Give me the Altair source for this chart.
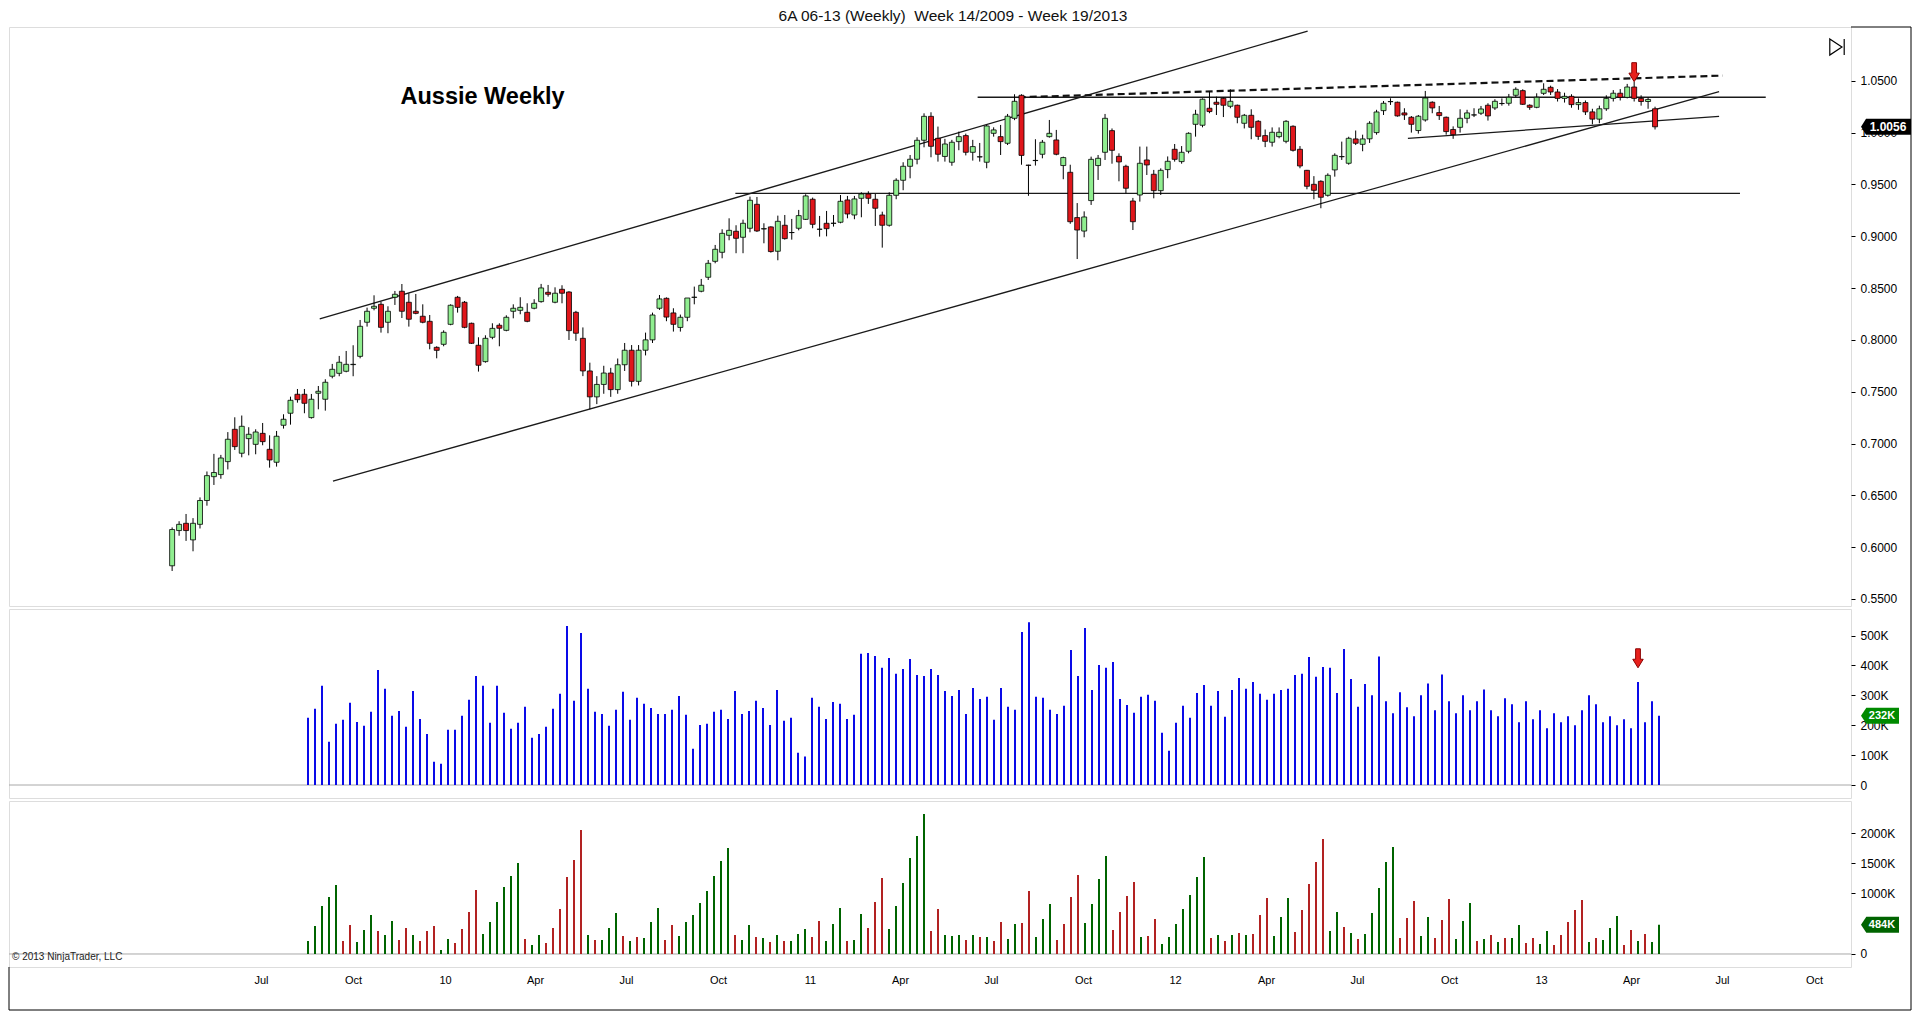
import altair as alt
import pandas as pd

# ---------------- layout ----------------
START = pd.Timestamp("2009-03-30")   # first weekly bar (week 14/2009)
W = 1842
H_PRICE, H_VOL, H_OI = 579, 189, 166
FONT = "Liberation Sans"

# ---------------- data ----------------
opens = [
    0.582, 0.616, 0.623, 0.607, 0.622, 0.645, 0.668, 0.670, 0.6825, 0.7137,
    0.6906, 0.7047, 0.6992, 0.7098, 0.6944, 0.6819, 0.7176, 0.7292, 0.7475, 0.7475,
    0.7250, 0.7485, 0.7427, 0.7649, 0.7677, 0.7697, 0.7761, 0.7841, 0.8170, 0.8305,
    0.8343, 0.8170, 0.8411, 0.8469, 0.8363, 0.8276, 0.8228, 0.8179, 0.7928, 0.7957,
    0.8150, 0.8411, 0.8363, 0.8160, 0.7948, 0.7790, 0.8025, 0.8141, 0.8092, 0.8276,
    0.8285, 0.8266, 0.8305, 0.8369, 0.8459, 0.8363, 0.8488, 0.8462, 0.8266, 0.8015,
    0.7700, 0.7450, 0.7570, 0.7680, 0.7520, 0.7760, 0.7900, 0.7600, 0.7900, 0.8000,
    0.8305, 0.8401, 0.8260, 0.8120, 0.8218, 0.8410, 0.8469, 0.8604, 0.8758, 0.8845,
    0.9009, 0.9048, 0.8990, 0.9077, 0.9308, 0.9070, 0.9090, 0.8855, 0.9106, 0.9035,
    0.9077, 0.9163, 0.9357, 0.9067, 0.9125, 0.9124, 0.9135, 0.9350, 0.9205, 0.9366,
    0.9408, 0.9357, 0.9205, 0.9106, 0.9395, 0.9540, 0.9675, 0.9743, 0.9926, 1.0157,
    0.9945, 0.9770, 0.9714, 0.9913, 0.9971, 0.9810, 0.9765, 0.9714, 0.9993, 0.9961,
    0.9897, 1.0138, 1.0360, 0.9686, 0.9730, 0.9791, 0.9961, 0.9929, 0.9682, 0.9617,
    0.9180, 0.9050, 0.9344, 0.9682, 0.9810, 1.0019, 0.9771, 0.9675, 0.9340, 0.9398,
    0.9736, 0.9598, 0.9440, 0.9643, 0.9839, 0.9720, 0.9820, 1.0080, 1.0071, 1.0235,
    1.0293, 1.0331, 1.0254, 1.0264, 1.0090, 1.0167, 1.0109, 0.9971, 0.9907, 0.9961,
    0.9916, 1.0061, 0.9839, 0.9636, 0.9501, 0.9530, 0.9395, 0.9640, 0.9767, 0.9704,
    0.9939, 0.9887, 0.9940, 1.0000, 1.0212, 1.0298, 1.0293, 1.0190, 1.0148, 1.0020,
    1.0122, 1.0293, 1.0193, 1.0148, 1.0030, 1.0051, 1.0138, 1.0170, 1.0187, 1.0264,
    1.0238, 1.0280, 1.0283, 1.0360, 1.0405, 1.0264, 1.0244, 1.0379, 1.0437, 1.0392,
    1.0330, 1.0350, 1.0270, 1.0290, 1.0200, 1.0130, 1.0230, 1.0330, 1.0380, 1.0340,
    1.0440, 1.0330, 1.0300, 1.0230,
]
highs = [
    0.619, 0.625, 0.632, 0.628, 0.648, 0.673, 0.690, 0.689, 0.711, 0.7253,
    0.727, 0.7157, 0.7137, 0.7198, 0.7079, 0.7121, 0.7282, 0.7452, 0.7526, 0.7526,
    0.7478, 0.7555, 0.7620, 0.7768, 0.7845, 0.7893, 0.7948, 0.8192, 0.8311, 0.8430,
    0.8369, 0.8324, 0.8472, 0.8539, 0.8449, 0.8443, 0.8343, 0.8240, 0.7938, 0.8092,
    0.8343, 0.8424, 0.8375, 0.8166, 0.8025, 0.8044, 0.8160, 0.8160, 0.8237, 0.8343,
    0.8411, 0.8353, 0.8392, 0.8540, 0.8530, 0.8507, 0.8527, 0.8470, 0.8280, 0.8120,
    0.7780, 0.7650, 0.7750, 0.7730, 0.7820, 0.7970, 0.7950, 0.7950, 0.8070, 0.8263,
    0.8433, 0.8410, 0.8305, 0.8244, 0.8404, 0.8514, 0.8588, 0.8771, 0.8916, 0.9067,
    0.9173, 0.9106, 0.9160, 0.9382, 0.9379, 0.9125, 0.9096, 0.9199, 0.9205, 0.9167,
    0.9254, 0.9405, 0.9373, 0.9196, 0.9244, 0.9205, 0.9398, 0.9389, 0.9389, 0.9424,
    0.9434, 0.9408, 0.9237, 0.9424, 0.9559, 0.9714, 0.9784, 0.9955, 1.0186, 1.0196,
    1.0058, 0.9940, 0.9930, 1.0010, 0.9990, 0.9930, 0.9900, 1.0074, 1.0051, 1.0074,
    1.0180, 1.0370, 1.0370, 0.9690, 0.9936, 0.9929, 1.0122, 1.0026, 0.9768, 0.9690,
    0.9320, 0.9240, 0.9768, 0.9784, 1.0180, 1.0040, 0.9800, 0.9690, 0.9370, 0.9865,
    0.9865, 0.9640, 0.9655, 0.9770, 0.9890, 0.9870, 1.0003, 1.0220, 1.0330, 1.0396,
    1.0347, 1.0340, 1.0418, 1.0270, 1.0180, 1.0225, 1.0120, 1.0030, 1.0050, 1.0050,
    1.0120, 1.0070, 0.9870, 0.9640, 0.9580, 0.9540, 0.9607, 0.9800, 0.9913, 0.9960,
    1.0020, 0.9980, 1.0110, 1.0220, 1.0305, 1.0331, 1.0299, 1.0235, 1.0160, 1.0170,
    1.0402, 1.0302, 1.0257, 1.0155, 1.0060, 1.0225, 1.0220, 1.0235, 1.0257, 1.0283,
    1.0322, 1.0330, 1.0373, 1.0437, 1.0418, 1.0273, 1.0379, 1.0476, 1.0453, 1.0420,
    1.0385, 1.0370, 1.0330, 1.0310, 1.0230, 1.0260, 1.0360, 1.0410, 1.0420, 1.0470,
    1.0490, 1.0360, 1.0340, 1.0250,
]
lows = [
    0.577, 0.611, 0.606, 0.596, 0.618, 0.640, 0.660, 0.666, 0.675, 0.6938,
    0.6867, 0.6886, 0.6896, 0.6983, 0.6767, 0.6777, 0.7144, 0.7182, 0.7394, 0.7292,
    0.7240, 0.7330, 0.7317, 0.7629, 0.7649, 0.7687, 0.7649, 0.7822, 0.8128, 0.8285,
    0.8070, 0.8064, 0.8337, 0.8211, 0.8128, 0.8247, 0.8160, 0.7909, 0.7822, 0.7938,
    0.8141, 0.8263, 0.8112, 0.7961, 0.7694, 0.7780, 0.8006, 0.7938, 0.8083, 0.8208,
    0.8247, 0.8170, 0.8295, 0.8359, 0.8417, 0.8353, 0.8353, 0.7999, 0.7990, 0.7650,
    0.7330, 0.7380, 0.7480, 0.7450, 0.7480, 0.7700, 0.7550, 0.7560, 0.7850, 0.7970,
    0.8289, 0.8180, 0.8080, 0.8080, 0.8180, 0.8343, 0.8459, 0.8578, 0.8739, 0.8787,
    0.8961, 0.8836, 0.8836, 0.9038, 0.9041, 0.8932, 0.8842, 0.8768, 0.8967, 0.8967,
    0.9057, 0.9157, 0.9077, 0.8996, 0.8999, 0.9093, 0.9125, 0.9173, 0.9164, 0.9183,
    0.9312, 0.9099, 0.8890, 0.9093, 0.9357, 0.9444, 0.9559, 0.9694, 0.9858, 0.9762,
    0.9720, 0.9720, 0.9680, 0.9830, 0.9780, 0.9730, 0.9720, 0.9656, 0.9961, 0.9784,
    0.9880, 1.0120, 0.9690, 0.9390, 0.9682, 0.9752, 0.9951, 0.9781, 0.9550, 0.9120,
    0.8780, 0.8990, 0.9302, 0.9543, 0.9736, 0.9700, 0.9530, 0.9415, 0.9060, 0.9334,
    0.9591, 0.9366, 0.9398, 0.9560, 0.9720, 0.9700, 0.9800, 0.9961, 1.0051, 1.0187,
    1.0170, 1.0150, 1.0235, 1.0090, 1.0040, 0.9936, 0.9930, 0.9860, 0.9865, 0.9945,
    0.9897, 0.9817, 0.9656, 0.9453, 0.9357, 0.9270, 0.9382, 0.9575, 0.9736, 0.9690,
    0.9880, 0.9820, 0.9900, 0.9980, 1.0170, 1.0267, 1.0154, 1.0122, 1.0000, 0.9990,
    1.0106, 1.0187, 1.0122, 0.9980, 0.9940, 1.0000, 1.0090, 1.0150, 1.0170, 1.0116,
    1.0219, 1.0260, 1.0260, 1.0341, 1.0267, 1.0220, 1.0235, 1.0363, 1.0363, 1.0300,
    1.0290, 1.0240, 1.0220, 1.0170, 1.0080, 1.0090, 1.0210, 1.0300, 1.0310, 1.0330,
    1.0300, 1.0260, 1.0230, 1.0030,
]
closes = [
    0.617, 0.622, 0.616, 0.623, 0.645, 0.669, 0.672, 0.686, 0.7041, 0.6970,
    0.7166, 0.7089, 0.7111, 0.7018, 0.6841, 0.7070, 0.7234, 0.7417, 0.7423, 0.7388,
    0.7427, 0.7504, 0.7591, 0.7716, 0.7784, 0.7764, 0.7764, 0.8131, 0.8276, 0.8324,
    0.8121, 0.8276, 0.8440, 0.8276, 0.8199, 0.8256, 0.8170, 0.7967, 0.7899, 0.8073,
    0.8334, 0.8314, 0.8121, 0.7967, 0.7755, 0.8015, 0.8111, 0.8112, 0.8218, 0.8305,
    0.8314, 0.8179, 0.8353, 0.8501, 0.8440, 0.8450, 0.8450, 0.8089, 0.8064, 0.7700,
    0.7450, 0.7570, 0.7680, 0.7520, 0.7760, 0.7900, 0.7600, 0.7900, 0.8000, 0.8240,
    0.8395, 0.8220, 0.8150, 0.8218, 0.8404, 0.8412, 0.8527, 0.8739, 0.8874, 0.9028,
    0.9057, 0.8980, 0.9125, 0.9347, 0.9051, 0.9073, 0.8852, 0.9144, 0.8977, 0.9036,
    0.9199, 0.9389, 0.9115, 0.9068, 0.9073, 0.9126, 0.9337, 0.9215, 0.9360, 0.9408,
    0.9366, 0.9270, 0.9106, 0.9395, 0.9540, 0.9675, 0.9743, 0.9926, 1.0157, 0.9868,
    0.9791, 0.9890, 0.9907, 0.9961, 0.9810, 0.9865, 0.9767, 1.0064, 1.0026, 0.9913,
    1.0158, 1.0302, 0.9780, 0.9684, 0.9732, 0.9907, 0.9993, 0.9791, 0.9759, 0.9140,
    0.9060, 0.9186, 0.9742, 0.9752, 1.0138, 0.9829, 0.9717, 0.9463, 0.9140, 0.9704,
    0.9688, 0.9440, 0.9636, 0.9723, 0.9742, 0.9810, 0.9993, 1.0177, 1.0322, 1.0203,
    1.0273, 1.0264, 1.0302, 1.0148, 1.0167, 1.0051, 0.9964, 0.9916, 1.0003, 1.0003,
    1.0109, 0.9829, 0.9678, 0.9482, 0.9443, 0.9376, 0.9588, 0.9781, 0.9769, 0.9945,
    0.9897, 0.9939, 1.0090, 1.0199, 1.0283, 1.0300, 1.0161, 1.0170, 1.0080, 1.0158,
    1.0334, 1.0238, 1.0164, 1.0010, 0.9980, 1.0138, 1.0190, 1.0171, 1.0228, 1.0161,
    1.0302, 1.0281, 1.0341, 1.0418, 1.0273, 1.0244, 1.0341, 1.0418, 1.0392, 1.0330,
    1.0350, 1.0270, 1.0290, 1.0200, 1.0130, 1.0230, 1.0330, 1.0380, 1.0340, 1.0440,
    1.0330, 1.0300, 1.0320, 1.0056,
]

# volume (thousands), starting at bar 20
VOL_START = 20
volume_k = [
    225, 255, 332, 145, 205, 218, 275, 211, 198, 245,
    385, 322, 232, 248, 195, 315, 221, 171, 78, 71,
    185, 185, 232, 285, 365, 332, 208, 332, 242, 188,
    208, 262, 158, 171, 195, 255, 305, 532, 282, 509,
    322, 245, 238, 198, 252, 312, 218, 292, 272, 258,
    238, 238, 252, 298, 235, 121, 201, 205, 245, 252,
    221, 315, 238, 248, 282, 258, 201, 318, 215, 225,
    108, 95, 292, 262, 221, 278, 272, 221, 235, 439,
    442, 432, 392, 425, 372, 388, 422, 368, 365, 388,
    368, 315, 298, 318, 238, 325, 288, 295, 218, 325,
    262, 252, 512, 545, 295, 292, 252, 238, 265, 452,
    365, 525, 318, 402, 392, 412, 288, 268, 242, 295,
    302, 282, 175, 115, 208, 265, 225, 308, 335, 265,
    315, 228, 318, 358, 322, 345, 305, 285, 305, 318,
    322, 368, 372, 428, 362, 395, 392, 308, 455, 355,
    262, 338, 300, 430, 280, 240, 310, 260, 230, 300,
    340, 250, 370, 280, 240, 300, 250, 280, 320, 250,
    230, 290, 270, 210, 280, 220, 250, 190, 240, 210,
    230, 200, 250, 300, 270, 210, 230, 200, 220, 190,
    345, 210, 280, 232,
]

# third panel (thousands), starting at bar 20, with bar colours
oi_k = [
    215, 463, 793, 942, 1140, 215, 479, 198, 397, 645,
    380, 314, 545, 231, 430, 314, 215, 380, 463, 66,
    248, 182, 413, 694, 1058, 331, 529, 860, 1107, 1289,
    1504, 248, 149, 314, 182, 430, 744, 1273, 1554, 2050,
    314, 231, 231, 430, 678, 298, 215, 281, 264, 529,
    760, 231, 479, 298, 529, 645, 843, 1041, 1289, 1537,
    1752, 314, 231, 479, 281, 264, 198, 314, 215, 215,
    331, 413, 281, 545, 215, 496, 760, 215, 231, 661,
    430, 860, 1256, 413, 793, 1174, 1587, 1950, 2314, 380,
    744, 314, 298, 314, 231, 314, 281, 281, 215, 529,
    248, 496, 512, 1041, 281, 579, 826, 231, 496, 942,
    1306, 512, 826, 1240, 1620, 397, 694, 959, 1190, 281,
    298, 579, 165, 281, 496, 744, 975, 1273, 1603, 264,
    314, 215, 314, 347, 314, 331, 645, 926, 298, 612,
    926, 364, 727, 1157, 1521, 1901, 380, 694, 446, 347,
    248, 331, 678, 1091, 1521, 1769, 264, 595, 876, 298,
    612, 264, 562, 909, 248, 545, 843, 215, 248, 314,
    198, 264, 264, 479, 182, 264, 165, 380, 149, 314,
    529, 727, 893, 198, 264, 231, 430, 628, 149, 397,
    215, 331, 198, 484,
]
oi_colors = list(
    "gggggrrggg" "rggrrgrrrg" "grrrrggggg" "grggrrrrrr" "grgggrgrgg"
    "grrggggggg" "grggrgrgrg" "ggrrgggrgg" "rrrggggggr" "rgggrgrgrr"
    "ggrrgggrrr" "rggggrrrrg" "rrgggggggr" "grgrgrrrgg" "grrrrrggrg"
    "rgggggrrrg" "grrrgggrgr" "grggrrggrr" "rrrgrgggrr" "grgg"
)
OI_PALETTE = {"g": "#006400", "r": "#B22222"}

# drawn trend lines (bar index, price)
trend_x1 = [21.2, 23.1, 80.9, 115.7, 177.5]
trend_y1 = [0.8202, 0.6636, 0.9414, 1.0341, 0.9944]
trend_x2 = [163.1, 222.2, 225.2, 228.9, 222.2]
trend_y2 = [1.0980, 1.0395, 0.9414, 1.0341, 1.0157]
dash_x1, dash_y1, dash_x2, dash_y2 = [121.6], [1.0341], [222.7], [1.0550]

price_ticks = [0.55, 0.60, 0.65, 0.70, 0.75, 0.80, 0.85, 0.90, 0.95, 1.00, 1.05]
vol_ticks = [0, 100, 200, 300, 400, 500]
oi_ticks = [0, 1000, 1500, 2000]          # the 500K label sits under the value box
quarter_ticks = [(2009, 7), (2009, 10), (2010, 1), (2010, 4), (2010, 7), (2010, 10),
                 (2011, 1), (2011, 4), (2011, 7), (2011, 10), (2012, 1), (2012, 4),
                 (2012, 7), (2012, 10), (2013, 1), (2013, 4), (2013, 7), (2013, 10)]

title_text = "6A 06-13 (Weekly)\u00a0 Week 14/2009 - Week 19/2013"
note_text = "Aussie Weekly"
copyright_text = "\u00a9 2013 NinjaTrader, LLC"
arrow_bar = 210


# ---------------- helpers ----------------
def wdate(i):
    return (START + pd.Timedelta(days=7 * i)).strftime("%Y-%m-%dT%H:%M:%S")


def dt(ts):
    return alt.DateTime(year=ts.year, month=ts.month, date=ts.day)


X_SCALE = alt.Scale(domain=[dt(START - pd.Timedelta(days=159)),
                            dt(START + pd.Timedelta(days=W - 159))], nice=False)
X_AXIS = alt.Axis(
    values=[alt.DateTime(year=y, month=m, date=1) for y, m in quarter_ticks],
    labelExpr="month(datum.value) == 0 ? timeFormat(datum.value, '%y') : timeFormat(datum.value, '%b')",
    ticks=False, domain=False, grid=False, labelPadding=7, labelFontSize=11,
    labelColor="black", labelFont=FONT, labelOverlap=False, labelFlush=False, title=None,
)


def xe(field, axis=None):
    return alt.X(field, type="temporal", scale=X_SCALE, axis=axis, title=None)


def right_axis(values, fmt=None, expr=None):
    kw = dict(orient="right", values=values, tickSize=4, tickColor="black",
              labelPadding=5, domain=False, grid=False, labelFontSize=12,
              labelColor="black", labelFont=FONT, title=None)
    if fmt:
        kw["format"] = fmt
    if expr:
        kw["labelExpr"] = expr
    return alt.Axis(**kw)


P_SCALE = alt.Scale(domain=[0.5432, 1.1019], nice=False, zero=False)
P_AXIS = right_axis(price_ticks, fmt=".4f")
V_SCALE = alt.Scale(domain=[-43.5, 589], nice=False, zero=False)
V_AXIS = right_axis(vol_ticks, expr="datum.value == 0 ? '0' : datum.value + 'K'")
O_SCALE = alt.Scale(domain=[-215, 2529], nice=False, zero=False)
O_AXIS = right_axis(oi_ticks, expr="datum.value == 0 ? '0' : datum.value + 'K'")


def py(f):
    return alt.Y(f, type="quantitative", scale=P_SCALE, axis=P_AXIS, title=None)


def vy(f):
    return alt.Y(f, type="quantitative", scale=V_SCALE, axis=V_AXIS, title=None)


def oy(f):
    return alt.Y(f, type="quantitative", scale=O_SCALE, axis=O_AXIS, title=None)


one = pd.DataFrame({"k": [0]})
BOX_SHORT = "M-1,0 L-0.72,-0.42 L1,-0.42 L1,0.42 L-0.72,0.42 Z"
BOX_LONG = "M-1,0 L-0.8,-0.32 L1,-0.32 L1,0.32 L-0.8,0.32 Z"
ARROW = "M-0.25,-1 L0.25,-1 L0.25,0.1 L0.55,0.1 L0,1 L-0.55,0.1 L-0.25,0.1 Z"

# ---------------- price panel ----------------
price_df = pd.DataFrame({
    "date": [wdate(i) for i in range(len(closes))],
    "o": opens, "h": highs, "l": lows, "c": closes,
})
price_df["dir"] = ["up" if c >= o else "down" for o, c in zip(opens, closes)]

wicks = alt.Chart(price_df).mark_rule(color="black", strokeWidth=1).encode(
    x=xe("date"), y=py("l"), y2="h")
bodies = alt.Chart(price_df).mark_bar(size=5, stroke="black", strokeWidth=0.8).encode(
    x=xe("date"), y=py("o"), y2="c",
    fill=alt.Fill("dir:N", scale=alt.Scale(domain=["up", "down"], range=["#90EE90", "#E0161B"]),
                  legend=None))

lines_df = pd.DataFrame({
    "x1": [wdate(v) for v in trend_x1], "x2": [wdate(v) for v in trend_x2],
    "y1": trend_y1, "y2": trend_y2})
dash_df = pd.DataFrame({
    "x1": [wdate(v) for v in dash_x1], "x2": [wdate(v) for v in dash_x2],
    "y1": dash_y1, "y2": dash_y2})
trend = alt.Chart(lines_df).mark_rule(color="#1a1a1a", strokeWidth=1.3).encode(
    x=xe("x1"), x2="x2", y=py("y1"), y2="y2")
dashed = alt.Chart(dash_df).mark_rule(color="#111111", strokeWidth=2.2, strokeDash=[7, 4]).encode(
    x=xe("x1"), x2="x2", y=py("y1"), y2="y2")

note = alt.Chart(pd.DataFrame({"t": [note_text], "d": [wdate(32.8)], "p": [1.0344]})).mark_text(
    align="left", baseline="middle", fontSize=23.5, fontWeight="bold", font=FONT, color="black"
).encode(x=xe("d"), y=py("p"), text="t:N")

title = alt.Chart(pd.DataFrame({"t": [title_text]})).mark_text(
    align="center", baseline="middle", fontSize=15.5, font=FONT, color="#111111"
).encode(x=alt.value(944), y=alt.value(-11), text="t:N")

p_arrow = alt.Chart(pd.DataFrame({"d": [wdate(arrow_bar)], "p": [1.0583]})).mark_point(
    shape=ARROW, size=361, filled=True, fill="#E8201C", stroke="#8B0000", strokeWidth=1, opacity=1
).encode(x=xe("d"), y=py("p"))

last_df = pd.DataFrame({"p": [closes[-1]], "t": [f"{closes[-1]:.4f}"]})
p_box = alt.Chart(last_df).mark_point(
    shape=BOX_LONG, size=2500, filled=True, fill="black", strokeWidth=0, opacity=1
).encode(x=alt.value(W + 35), y=py("p"))
p_box_t = alt.Chart(last_df).mark_text(
    color="white", fontWeight="bold", fontSize=12, font=FONT, align="center", baseline="middle"
).encode(x=alt.value(W + 37), y=py("p"), text="t:N")

icon = alt.Chart(one).mark_point(
    shape="M-0.8,-0.9 L0.55,0 L-0.8,0.9 Z M0.8,-0.9 L0.8,0.9", size=324,
    filled=False, stroke="black", strokeWidth=1.2, opacity=1
).encode(x=alt.value(W - 14), y=alt.value(20))

RIGHT = W + 60
top_frame = alt.Chart(one).mark_rule(color="black", strokeWidth=1).encode(
    x=alt.value(W), x2=alt.value(RIGHT), y=alt.value(0))

price = alt.layer(trend, dashed, wicks, bodies, note, title, p_arrow, p_box, p_box_t,
                  icon, top_frame).properties(width=W, height=H_PRICE)

# ---------------- volume panel ----------------
vol_df = pd.DataFrame({
    "date": [wdate(VOL_START + i) for i in range(len(volume_k))],
    "v": volume_k, "base": [0] * len(volume_k)})
vol_zero = alt.Chart(pd.DataFrame({"z": [0]})).mark_rule(color="#A8A8A8", strokeWidth=1).encode(
    y=vy("z"))
vol_bars = alt.Chart(vol_df).mark_rule(color="#0A0AE8", strokeWidth=2).encode(
    x=xe("date"), y=vy("v"), y2="base")
v_arrow = alt.Chart(pd.DataFrame({"d": [wdate(arrow_bar)], "v": [424]})).mark_point(
    shape=ARROW, size=361, filled=True, fill="#E8201C", stroke="#8B0000", strokeWidth=1, opacity=1
).encode(x=xe("d"), y=vy("v"))
vlast = pd.DataFrame({"v": [volume_k[-1]], "t": [f"{volume_k[-1]}K"]})
v_box = alt.Chart(vlast).mark_point(
    shape=BOX_SHORT, size=1444, filled=True, fill="#008A00", strokeWidth=0, opacity=1
).encode(x=alt.value(W + 29), y=vy("v"))
v_box_t = alt.Chart(vlast).mark_text(
    color="white", fontWeight="bold", fontSize=11, font=FONT, align="center", baseline="middle"
).encode(x=alt.value(W + 31), y=vy("v"), text="t:N")

vol = alt.layer(vol_zero, vol_bars, v_arrow, v_box, v_box_t).properties(width=W, height=H_VOL)

# ---------------- third panel ----------------
oi_df = pd.DataFrame({
    "date": [wdate(VOL_START + i) for i in range(len(oi_k))],
    "v": oi_k, "col": oi_colors, "base": [0] * len(oi_k)})
oi_zero = alt.Chart(pd.DataFrame({"z": [0]})).mark_rule(color="#A8A8A8", strokeWidth=1).encode(
    x=alt.value(0), x2=alt.value(W), y=oy("z"))
oi_bars = alt.Chart(oi_df).mark_rule(strokeWidth=2).encode(
    x=xe("date", X_AXIS), y=oy("v"), y2="base",
    color=alt.Color("col:N", scale=alt.Scale(domain=list(OI_PALETTE), range=list(OI_PALETTE.values())),
                    legend=None))
olast = pd.DataFrame({"v": [oi_k[-1]], "t": [f"{oi_k[-1]}K"]})
o_box = alt.Chart(olast).mark_point(
    shape=BOX_SHORT, size=1444, filled=True, fill=OI_PALETTE[oi_colors[-1]], strokeWidth=0, opacity=1
).encode(x=alt.value(W + 29), y=oy("v"))
o_box_t = alt.Chart(olast).mark_text(
    color="white", fontWeight="bold", fontSize=11, font=FONT, align="center", baseline="middle"
).encode(x=alt.value(W + 31), y=oy("v"), text="t:N")

copyright_mark = alt.Chart(pd.DataFrame({"t": [copyright_text]})).mark_text(
    align="left", baseline="middle", fontSize=10, font=FONT, color="#222222"
).encode(x=alt.value(3), y=alt.value(H_OI - 10), text="t:N")

BOTTOM = H_OI + 43
frame_b = alt.Chart(one).mark_rule(color="black", strokeWidth=1).encode(
    x=alt.value(0), x2=alt.value(RIGHT), y=alt.value(BOTTOM))
frame_l = alt.Chart(one).mark_rule(color="black", strokeWidth=1).encode(
    x=alt.value(0), y=alt.value(H_OI), y2=alt.value(BOTTOM))
frame_r = alt.Chart(one).mark_rule(color="black", strokeWidth=1).encode(
    x=alt.value(RIGHT), y=alt.value(-(H_PRICE + H_VOL + 6)), y2=alt.value(BOTTOM))

oi = alt.layer(oi_zero, oi_bars, o_box, o_box_t, copyright_mark, frame_b, frame_l, frame_r
               ).properties(width=W, height=H_OI)

chart = alt.vconcat(price, vol, oi, spacing=3, bounds="flush").properties(
    padding=0, background="white"
).configure_view(stroke="black", strokeWidth=1).configure(font=FONT)

chart.save("out.html", embed_options={"renderer": "svg", "actions": False})
